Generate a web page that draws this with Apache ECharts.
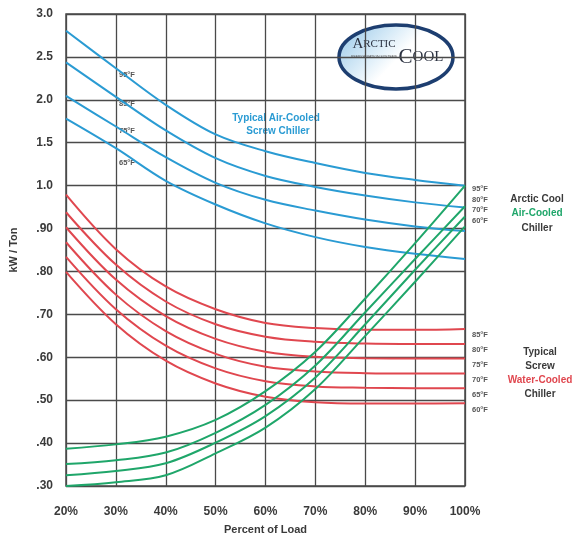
<!DOCTYPE html>
<html>
<head>
<meta charset="utf-8">
<script src="https://cdn.jsdelivr.net/npm/echarts@6/dist/echarts.min.js"></script>
<style>html,body{margin:0;padding:0;background:#fff;}#c{width:574px;height:540px;}</style>
</head>
<body>
<div id="c"></div>
<script>
// ---- data (kW/Ton) ----
const loadPercent = [20, 30, 40, 50, 60, 70, 80, 90, 100];
const yTickLabels = ['.30', '.40', '.50', '.60', '.70', '.80', '.90', '1.0', '1.5', '2.0', '2.5', '3.0'];

// Typical Air-Cooled Screw Chiller (blue)
const airScrew95 = [2.805, 2.368, 1.942, 1.597, 1.401, 1.263, 1.148, 1.067, 1.000];
const airScrew85 = [2.437, 2.034, 1.643, 1.320, 1.113, 0.997, 0.977, 0.961, 0.949];
const airScrew75 = [2.045, 1.689, 1.332, 1.033, 0.967, 0.942, 0.921, 0.905, 0.894];
const airScrew65 = [1.781, 1.436, 1.056, 0.956, 0.912, 0.880, 0.857, 0.841, 0.829];

// Typical Screw Water-Cooled Chiller (red)
const water85 = [0.979, 0.852, 0.765, 0.712, 0.680, 0.668, 0.664, 0.664, 0.666];
const water80 = [0.938, 0.816, 0.730, 0.677, 0.648, 0.636, 0.632, 0.631, 0.631];
const water75 = [0.903, 0.781, 0.696, 0.643, 0.613, 0.601, 0.598, 0.597, 0.597];
const water70 = [0.868, 0.746, 0.661, 0.608, 0.578, 0.567, 0.563, 0.562, 0.562];
const water65 = [0.834, 0.712, 0.627, 0.574, 0.544, 0.532, 0.529, 0.528, 0.528];
const water60 = [0.799, 0.677, 0.592, 0.539, 0.508, 0.495, 0.492, 0.492, 0.493];

// Arctic Cool Air-Cooled Chiller (green)
const arctic95 = [0.387, 0.397, 0.415, 0.454, 0.521, 0.613, 0.737, 0.866, 1.000];
const arctic80 = [0.351, 0.360, 0.378, 0.424, 0.489, 0.581, 0.705, 0.829, 0.952];
const arctic70 = [0.325, 0.335, 0.353, 0.401, 0.463, 0.553, 0.677, 0.804, 0.928];
const arctic60 = [0.300, 0.309, 0.325, 0.376, 0.436, 0.526, 0.650, 0.776, 0.905];

// piecewise axis scale: 0.1 per step up to 1.0, 0.5 per step above
function toAxis(v) { return v <= 1 ? (v - 0.3) / 0.1 : 7 + (v - 1) / 0.5; }
function pts(arr) { return arr.map((v, i) => [loadPercent[i], toAxis(v)]); }

const BLUE = '#2a9bd3', RED = '#e0474f', GREEN = '#1fa66a';
function line(name, arr, color) {
  return { name, type: 'line', data: pts(arr), smooth: 0.35, symbol: 'none',
    lineStyle: { color, width: 2 }, z: 3 };
}

const chart = echarts.init(document.getElementById('c'));
const FONT = '"Liberation Sans", Arial, sans-serif';
const small = (text, x, y) => ({ type: 'text', style: { text, x, y, fill: '#555', font: 'bold 7.5px ' + FONT, textAlign: 'left', textVerticalAlign: 'middle' } });
const ctext = (text, x, y, fill) => ({ type: 'text', style: { text, x, y, fill: fill || '#3a3a3a', font: 'bold 10px ' + FONT, textAlign: 'center', textVerticalAlign: 'middle' } });

chart.setOption({
  animation: false,
  grid: { left: 62, top: 14, width: 403, height: 478, show: true, borderColor: '#4a4a4a', borderWidth: 1.5, backgroundColor: '#fff' },
  xAxis: {
    type: 'value', min: 20, max: 100, interval: 10,
    name: 'Percent of Load', nameLocation: 'middle', nameGap: 38,
    nameTextStyle: { fontFamily: FONT, fontWeight: 'bold', fontSize: 11, color: '#3a3a3a' },
    axisLine: { show: false }, axisTick: { show: false },
    axisLabel: { formatter: '{value}%', margin: 20, fontFamily: FONT, fontWeight: 'bold', fontSize: 12, color: '#3a3a3a' },
    splitLine: { lineStyle: { color: '#4a4a4a', width: 1.3 } }
  },
  yAxis: {
    type: 'value', min: 0, max: 11, interval: 1,
    name: 'kW / Ton', nameLocation: 'middle', nameGap: 47, nameRotate: 90,
    nameTextStyle: { fontFamily: FONT, fontWeight: 'bold', fontSize: 11, color: '#3a3a3a' },
    axisLine: { show: false }, axisTick: { show: false },
    axisLabel: { formatter: v => yTickLabels[Math.round(v)], margin: 13, fontFamily: FONT, fontWeight: 'bold', fontSize: 12, color: '#3a3a3a' },
    splitLine: { lineStyle: { color: '#4a4a4a', width: 1.3 } }
  },
  series: [
    line('Air 95°F', airScrew95, BLUE), line('Air 85°F', airScrew85, BLUE),
    line('Air 75°F', airScrew75, BLUE), line('Air 65°F', airScrew65, BLUE),
    line('Water 85°F', water85, RED), line('Water 80°F', water80, RED), line('Water 75°F', water75, RED),
    line('Water 70°F', water70, RED), line('Water 65°F', water65, RED), line('Water 60°F', water60, RED),
    line('Arctic 95°F', arctic95, GREEN), line('Arctic 80°F', arctic80, GREEN),
    line('Arctic 70°F', arctic70, GREEN), line('Arctic 60°F', arctic60, GREEN)
  ],
  graphic: [
    small('95°F', 119, 75), small('85°F', 119, 104), small('75°F', 119, 131), small('65°F', 119, 163),
    ctext('Typical Air-Cooled', 276, 118, BLUE), ctext('Screw Chiller', 278, 131, BLUE),
    small('95°F', 472, 189), small('80°F', 472, 200), small('70°F', 472, 210), small('60°F', 472, 221),
    ctext('Arctic Cool', 537, 199), ctext('Air-Cooled', 537, 213, GREEN), ctext('Chiller', 537, 228),
    small('85°F', 472, 335), small('80°F', 472, 350), small('75°F', 472, 365),
    small('70°F', 472, 380), small('65°F', 472, 395), small('60°F', 472, 410),
    ctext('Typical', 540, 352), ctext('Screw', 540, 366), ctext('Water-Cooled', 540, 380, RED), ctext('Chiller', 540, 394),
    {
      type: 'group', z: 10,
      children: [
        { type: 'ellipse', shape: { cx: 396, cy: 57, rx: 57, ry: 32 },
          style: { fill: new echarts.graphic.LinearGradient(0, 0, 0.6, 1, [
            { offset: 0, color: '#8fc3e6' }, { offset: 0.45, color: '#d6eaf7' }, { offset: 0.7, color: '#ffffff' }, { offset: 1, color: '#ffffff' }]),
            stroke: '#1d3e70', lineWidth: 3.5 } },
        { type: 'text', style: { text: '{a|A}{b|RCTIC}', x: 374, y: 52, textAlign: 'center', textVerticalAlign: 'bottom',
            rich: { a: { fontFamily: '"Liberation Serif", serif', fontSize: 15, fill: '#2b3140' }, b: { fontFamily: '"Liberation Serif", serif', fontSize: 11, fill: '#2b3140' } } } },
        { type: 'text', style: { text: 'REFRIGERATION SYSTEMS', x: 374, y: 57, textAlign: 'center', textVerticalAlign: 'middle', font: '3.5px ' + FONT, fill: '#555' } },
        { type: 'text', style: { text: '{a|C}{b|OOL}', x: 421, y: 68, textAlign: 'center', textVerticalAlign: 'bottom',
            rich: { a: { fontFamily: '"Liberation Serif", serif', fontSize: 21, fill: '#2b3140' }, b: { fontFamily: '"Liberation Serif", serif', fontSize: 15, fill: '#2b3140' } } } }
      ]
    }
  ]
});
</script>
</body>
</html>
